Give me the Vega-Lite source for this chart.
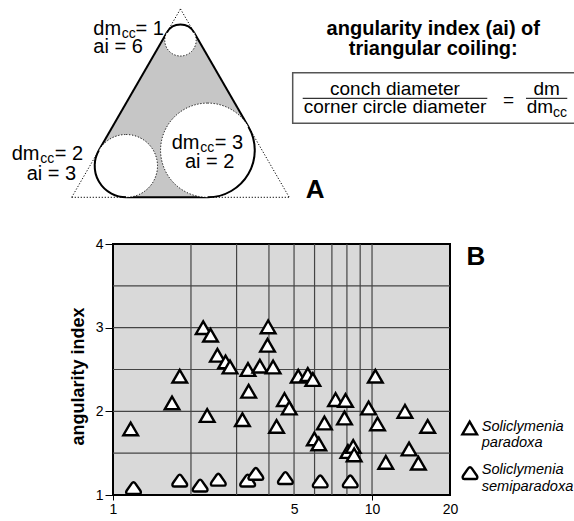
{
  "$schema": "https://vega.github.io/schema/vega-lite/v6.json",
  "autosize": {"type": "none"},
  "padding": {"left": 113, "top": 244, "right": 124, "bottom": 26},
  "width": 337,
  "height": 251,
  "view": {"fill": "#d9d9d9", "stroke": "black", "strokeWidth": 2},
  "config": {"font": "Liberation Sans"},
  "datasets": {
    "vgrid": [{"g": 2}, {"g": 3}, {"g": 4}, {"g": 5}, {"g": 6}, {"g": 7}, {"g": 8}, {"g": 9}, {"g": 10}],
    "hgrid": [{"g": 1.5}, {"g": 2}, {"g": 2.5}, {"g": 3}, {"g": 3.5}],
    "shells": [
      {"species": "Soliclymenia paradoxa", "dm": 1.17, "ai": 1.79},
      {"species": "Soliclymenia paradoxa", "dm": 1.69, "ai": 2.10},
      {"species": "Soliclymenia paradoxa", "dm": 1.81, "ai": 2.42},
      {"species": "Soliclymenia paradoxa", "dm": 2.31, "ai": 1.95},
      {"species": "Soliclymenia paradoxa", "dm": 2.23, "ai": 3.00},
      {"species": "Soliclymenia paradoxa", "dm": 2.38, "ai": 2.91},
      {"species": "Soliclymenia paradoxa", "dm": 2.53, "ai": 2.67},
      {"species": "Soliclymenia paradoxa", "dm": 2.72, "ai": 2.59},
      {"species": "Soliclymenia paradoxa", "dm": 2.83, "ai": 2.53},
      {"species": "Soliclymenia paradoxa", "dm": 3.97, "ai": 3.01},
      {"species": "Soliclymenia paradoxa", "dm": 3.95, "ai": 2.79},
      {"species": "Soliclymenia paradoxa", "dm": 3.32, "ai": 2.50},
      {"species": "Soliclymenia paradoxa", "dm": 3.69, "ai": 2.54},
      {"species": "Soliclymenia paradoxa", "dm": 4.15, "ai": 2.53},
      {"species": "Soliclymenia paradoxa", "dm": 3.34, "ai": 2.24},
      {"species": "Soliclymenia paradoxa", "dm": 3.16, "ai": 1.90},
      {"species": "Soliclymenia paradoxa", "dm": 4.28, "ai": 1.82},
      {"species": "Soliclymenia paradoxa", "dm": 4.59, "ai": 2.14},
      {"species": "Soliclymenia paradoxa", "dm": 4.79, "ai": 2.04},
      {"species": "Soliclymenia paradoxa", "dm": 5.19, "ai": 2.42},
      {"species": "Soliclymenia paradoxa", "dm": 5.65, "ai": 2.44},
      {"species": "Soliclymenia paradoxa", "dm": 5.91, "ai": 2.38},
      {"species": "Soliclymenia paradoxa", "dm": 6.55, "ai": 1.86},
      {"species": "Soliclymenia paradoxa", "dm": 5.99, "ai": 1.67},
      {"species": "Soliclymenia paradoxa", "dm": 6.23, "ai": 1.61},
      {"species": "Soliclymenia paradoxa", "dm": 7.23, "ai": 2.14},
      {"species": "Soliclymenia paradoxa", "dm": 7.90, "ai": 2.13},
      {"species": "Soliclymenia paradoxa", "dm": 7.83, "ai": 1.92},
      {"species": "Soliclymenia paradoxa", "dm": 10.3, "ai": 2.42},
      {"species": "Soliclymenia paradoxa", "dm": 9.70, "ai": 2.04},
      {"species": "Soliclymenia paradoxa", "dm": 10.5, "ai": 1.85},
      {"species": "Soliclymenia paradoxa", "dm": 13.4, "ai": 2.00},
      {"species": "Soliclymenia paradoxa", "dm": 16.4, "ai": 1.82},
      {"species": "Soliclymenia paradoxa", "dm": 13.9, "ai": 1.55},
      {"species": "Soliclymenia paradoxa", "dm": 15.1, "ai": 1.38},
      {"species": "Soliclymenia paradoxa", "dm": 11.3, "ai": 1.39},
      {"species": "Soliclymenia paradoxa", "dm": 8.07, "ai": 1.52},
      {"species": "Soliclymenia paradoxa", "dm": 8.46, "ai": 1.58},
      {"species": "Soliclymenia paradoxa", "dm": 8.53, "ai": 1.48},
      {"species": "Soliclymenia semiparadoxa", "dm": 1.20, "ai": 1.08},
      {"species": "Soliclymenia semiparadoxa", "dm": 1.81, "ai": 1.17},
      {"species": "Soliclymenia semiparadoxa", "dm": 2.17, "ai": 1.11},
      {"species": "Soliclymenia semiparadoxa", "dm": 2.55, "ai": 1.18},
      {"species": "Soliclymenia semiparadoxa", "dm": 3.31, "ai": 1.17},
      {"species": "Soliclymenia semiparadoxa", "dm": 3.56, "ai": 1.25},
      {"species": "Soliclymenia semiparadoxa", "dm": 4.63, "ai": 1.20},
      {"species": "Soliclymenia semiparadoxa", "dm": 6.31, "ai": 1.16},
      {"species": "Soliclymenia semiparadoxa", "dm": 8.24, "ai": 1.16}
    ],
    "leg": [
      {"species": "Soliclymenia paradoxa", "u": 12.675, "v": -7.347},
      {"species": "Soliclymenia semiparadoxa", "u": 12.685, "v": -8.790}
    ],
    "seg": [
      {"kind": "dotted", "u": 0, "v": 0, "u2": 3.464, "v2": 6},
      {"kind": "dotted", "u": 3.464, "v": 6, "u2": 6.928, "v2": 0},
      {"kind": "dotted", "u": 0, "v": 0, "u2": 6.928, "v2": 0},
      {"kind": "solid", "u": 0.866, "v": 1.5, "u2": 3.031, "v2": 5.25},
      {"kind": "solid", "u": 3.897, "v": 5.25, "u2": 5.629, "v2": 2.25},
      {"kind": "solid", "u": 1.732, "v": 0, "u2": 4.330, "v2": 0},
      {"kind": "frac", "u": 7.357, "v": 3.153, "u2": 13.236, "v2": 3.153},
      {"kind": "frac", "u": 14.468, "v": 3.153, "u2": 15.783, "v2": 3.153}
    ],
    "hull": [
      {"u": 0.866, "v": 1.5, "v2": 1.5},
      {"u": 1.732, "v": 3.0, "v2": 0},
      {"u": 3.031, "v": 5.25, "v2": 0},
      {"u": 3.897, "v": 5.25, "v2": 0},
      {"u": 4.330, "v": 4.5, "v2": 0},
      {"u": 5.629, "v": 2.25, "v2": 2.25}
    ],
    "circ": [
      {"u": 3.464, "v": 5, "r": 0.5, "t1": -1.0472, "t2": 1.0472},
      {"u": 1.732, "v": 1, "r": 1, "t1": 3.1416, "t2": 5.236},
      {"u": 4.330, "v": 1.5, "r": 1.5, "t1": 1.0472, "t2": 3.1416}
    ],
    "box": [{"u": 7.038, "v": 3.968, "u2": 16.2, "v2": 2.357}],
    "txt": [
      {"role": "lab", "u": 0.688, "v": 5.169, "t": "dm"},
      {"role": "sub", "u": 1.596, "v": 5.073, "t": "cc"},
      {"role": "lab", "u": 2.030, "v": 5.169, "t": "= 1"},
      {"role": "lab", "u": 0.688, "v": 4.586, "t": "ai = 6"},
      {"role": "lab", "u": -1.911, "v": 1.188, "t": "dm"},
      {"role": "sub", "u": -1.003, "v": 1.092, "t": "cc"},
      {"role": "lab", "u": -0.542, "v": 1.188, "t": "= 2"},
      {"role": "lab", "u": -1.433, "v": 0.551, "t": "ai = 3"},
      {"role": "lab", "u": 3.185, "v": 1.529, "t": "dm"},
      {"role": "sub", "u": 4.093, "v": 1.433, "t": "cc"},
      {"role": "lab", "u": 4.554, "v": 1.529, "t": "= 3"},
      {"role": "lab", "u": 3.608, "v": 0.924, "t": "ai = 2"},
      {"role": "head", "u": 11.516, "v": 5.185, "t": "angularity index (ai) of"},
      {"role": "head", "u": 11.516, "v": 4.532, "t": "triangular coiling:"},
      {"role": "frac", "u": 10.296, "v": 3.258, "t": "conch diameter"},
      {"role": "frac", "u": 10.296, "v": 2.675, "t": "corner circle diameter"},
      {"role": "frac", "u": 13.911, "v": 2.904, "t": "="},
      {"role": "frac", "u": 15.127, "v": 3.258, "t": "dm"},
      {"role": "frac", "u": 14.911, "v": 2.675, "t": "dm"},
      {"role": "sub", "u": 15.328, "v": 2.553, "t": "cc"},
      {"role": "big", "u": 7.749, "v": -0.032, "t": "A"},
      {"role": "big", "u": 12.869, "v": -2.156, "t": "B"},
      {"role": "leg", "u": 13.057, "v": -7.443, "t": "Soliclymenia"},
      {"role": "leg", "u": 13.057, "v": -7.952, "t": "paradoxa"},
      {"role": "leg", "u": 13.057, "v": -8.828, "t": "Soliclymenia"},
      {"role": "leg", "u": 13.057, "v": -9.338, "t": "semiparadoxa"}
    ]
  },
  "layer": [
    {
      "data": {"name": "vgrid"},
      "mark": {"type": "rule", "color": "#444", "strokeWidth": 1.2},
      "encoding": {
        "x": {"field": "g", "type": "quantitative", "scale": {"type": "log", "domain": [1, 20], "nice": false}, "axis": null}
      }
    },
    {
      "data": {"name": "hgrid"},
      "mark": {"type": "rule", "color": "#444", "strokeWidth": 1.2},
      "encoding": {
        "y": {"field": "g", "type": "quantitative", "scale": {"domain": [1, 4], "nice": false, "zero": false}, "axis": null}
      }
    },
    {
      "data": {"name": "shells"},
      "mark": {"type": "point", "filled": false, "fill": "white", "stroke": "black", "strokeWidth": 2.4, "size": 215, "opacity": 1, "fillOpacity": 1},
      "encoding": {
        "x": {
          "field": "dm", "type": "quantitative",
          "scale": {"type": "log", "domain": [1, 20], "nice": false},
          "axis": {
            "values": [1, 5, 10, 20], "title": null, "domain": false, "grid": false,
            "tickSize": 5, "tickColor": "black",
            "tickOpacity": {"condition": {"test": "datum.value == 1 || datum.value == 10", "value": 1}, "value": 0},
            "labelFontSize": 14, "labelColor": "black", "labelPadding": 2, "labelFlush": false, "format": "~g"
          }
        },
        "y": {
          "field": "ai", "type": "quantitative",
          "scale": {"domain": [1, 4], "nice": false, "zero": false},
          "axis": {
            "values": [1, 2, 3, 4], "title": "angularity index", "titleFontSize": 18, "titleFontWeight": "bold",
            "titleColor": "black", "titlePadding": 8, "titleY": 132, "domain": false, "grid": false,
            "tickSize": 8, "tickColor": "black", "labelFontSize": 14, "labelColor": "black", "labelPadding": 2
          }
        },
        "shape": {
          "field": "species", "type": "nominal",
          "scale": {
            "domain": ["Soliclymenia paradoxa", "Soliclymenia semiparadoxa"],
            "range": ["triangle-up", "M-0.78,0.78 C-1.05,0.78 -1.05,0.5 -0.92,0.3 L-0.22,-0.7 C-0.1,-0.88 0.1,-0.88 0.22,-0.7 L0.92,0.3 C1.05,0.5 1.05,0.78 0.78,0.78 Z"]
          },
          "legend": null
        }
      }
    },
    {
      "data": {"name": "leg"},
      "mark": {"type": "point", "filled": false, "fill": "white", "stroke": "black", "strokeWidth": 2.4, "size": 215, "opacity": 1, "fillOpacity": 1},
      "encoding": {
        "x": {"field": "u", "type": "quantitative", "scale": {"domain": [1.315, 12.048], "nice": false, "zero": false}, "axis": null},
        "y": {"field": "v", "type": "quantitative", "scale": {"domain": [-9.481, -1.487], "nice": false, "zero": false}, "axis": null},
        "shape": {
          "field": "species", "type": "nominal",
          "scale": {
            "domain": ["Soliclymenia paradoxa", "Soliclymenia semiparadoxa"],
            "range": ["triangle-up", "M-0.78,0.78 C-1.05,0.78 -1.05,0.5 -0.92,0.3 L-0.22,-0.7 C-0.1,-0.88 0.1,-0.88 0.22,-0.7 L0.92,0.3 C1.05,0.5 1.05,0.78 0.78,0.78 Z"]
          },
          "legend": null
        }
      }
    },
    {
      "data": {"name": "seg"},
      "transform": [{"filter": "datum.kind == 'dotted'"}],
      "mark": {"type": "rule", "color": "black", "strokeWidth": 1, "strokeDash": [1.2, 1.8]},
      "encoding": {
        "x": {"field": "u", "type": "quantitative", "scale": {"domain": [1.315, 12.048], "nice": false, "zero": false}, "axis": null},
        "y": {"field": "v", "type": "quantitative", "scale": {"domain": [-9.481, -1.487], "nice": false, "zero": false}, "axis": null},
        "x2": {"field": "u2"}, "y2": {"field": "v2"}
      }
    },
    {
      "data": {"name": "hull"},
      "mark": {"type": "area", "color": "#c6c6c6", "opacity": 1},
      "encoding": {
        "x": {"field": "u", "type": "quantitative", "scale": {"domain": [1.315, 12.048], "nice": false, "zero": false}, "axis": null},
        "y": {"field": "v", "type": "quantitative", "scale": {"domain": [-9.481, -1.487], "nice": false, "zero": false}, "axis": null},
        "y2": {"field": "v2"}
      }
    },
    {
      "data": {"name": "seg"},
      "transform": [{"filter": "datum.kind == 'solid'"}],
      "mark": {"type": "rule", "color": "black", "strokeWidth": 2},
      "encoding": {
        "x": {"field": "u", "type": "quantitative", "scale": {"domain": [1.315, 12.048], "nice": false, "zero": false}, "axis": null},
        "y": {"field": "v", "type": "quantitative", "scale": {"domain": [-9.481, -1.487], "nice": false, "zero": false}, "axis": null},
        "x2": {"field": "u2"}, "y2": {"field": "v2"}
      }
    },
    {
      "data": {"name": "seg"},
      "transform": [{"filter": "datum.kind == 'frac'"}],
      "mark": {"type": "rule", "color": "black", "strokeWidth": 1},
      "encoding": {
        "x": {"field": "u", "type": "quantitative", "scale": {"domain": [1.315, 12.048], "nice": false, "zero": false}, "axis": null},
        "y": {"field": "v", "type": "quantitative", "scale": {"domain": [-9.481, -1.487], "nice": false, "zero": false}, "axis": null},
        "x2": {"field": "u2"}, "y2": {"field": "v2"}
      }
    },
    {
      "data": {"name": "box"},
      "mark": {"type": "rect", "filled": false, "color": "#555", "strokeWidth": 1.5},
      "encoding": {
        "x": {"field": "u", "type": "quantitative", "scale": {"domain": [1.315, 12.048], "nice": false, "zero": false}, "axis": null},
        "y": {"field": "v", "type": "quantitative", "scale": {"domain": [-9.481, -1.487], "nice": false, "zero": false}, "axis": null},
        "x2": {"field": "u2"}, "y2": {"field": "v2"}
      }
    },
    {
      "data": {"name": "circ"},
      "mark": {"type": "arc", "theta": 0, "theta2": 6.2832, "fill": "white", "stroke": "black", "strokeWidth": 1, "strokeDash": [1.2, 1.8]},
      "encoding": {
        "x": {"field": "u", "type": "quantitative", "scale": {"domain": [1.315, 12.048], "nice": false, "zero": false}, "axis": null},
        "y": {"field": "v", "type": "quantitative", "scale": {"domain": [-9.481, -1.487], "nice": false, "zero": false}, "axis": null},
        "radius": {"field": "r", "type": "quantitative", "stack": null, "scale": {"type": "linear", "domain": [0, 1.5], "range": [0, 47.1], "zero": true, "nice": false}, "legend": null}
      }
    },
    {
      "data": {"name": "circ"},
      "mark": {"type": "arc", "filled": false, "color": "black", "strokeWidth": 2},
      "encoding": {
        "x": {"field": "u", "type": "quantitative", "scale": {"domain": [1.315, 12.048], "nice": false, "zero": false}, "axis": null},
        "y": {"field": "v", "type": "quantitative", "scale": {"domain": [-9.481, -1.487], "nice": false, "zero": false}, "axis": null},
        "theta": {"field": "t1", "type": "quantitative", "scale": null, "stack": null},
        "theta2": {"field": "t2"},
        "radius": {"field": "r", "type": "quantitative", "stack": null, "scale": {"type": "linear", "domain": [0, 1.5], "range": [0, 47.1], "zero": true, "nice": false}, "legend": null},
        "radius2": {"field": "r"}
      }
    },
    {
      "data": {"name": "txt"},
      "transform": [{"filter": "datum.role == 'lab'"}],
      "mark": {"type": "text", "align": "left", "baseline": "alphabetic", "fontSize": 20, "color": "black"},
      "encoding": {
        "x": {"field": "u", "type": "quantitative", "scale": {"domain": [1.315, 12.048], "nice": false, "zero": false}, "axis": null},
        "y": {"field": "v", "type": "quantitative", "scale": {"domain": [-9.481, -1.487], "nice": false, "zero": false}, "axis": null},
        "text": {"field": "t"}
      }
    },
    {
      "data": {"name": "txt"},
      "transform": [{"filter": "datum.role == 'sub'"}],
      "mark": {"type": "text", "align": "left", "baseline": "alphabetic", "fontSize": 14, "color": "black"},
      "encoding": {
        "x": {"field": "u", "type": "quantitative", "scale": {"domain": [1.315, 12.048], "nice": false, "zero": false}, "axis": null},
        "y": {"field": "v", "type": "quantitative", "scale": {"domain": [-9.481, -1.487], "nice": false, "zero": false}, "axis": null},
        "text": {"field": "t"}
      }
    },
    {
      "data": {"name": "txt"},
      "transform": [{"filter": "datum.role == 'frac'"}],
      "mark": {"type": "text", "align": "center", "baseline": "alphabetic", "fontSize": 19, "color": "black"},
      "encoding": {
        "x": {"field": "u", "type": "quantitative", "scale": {"domain": [1.315, 12.048], "nice": false, "zero": false}, "axis": null},
        "y": {"field": "v", "type": "quantitative", "scale": {"domain": [-9.481, -1.487], "nice": false, "zero": false}, "axis": null},
        "text": {"field": "t"}
      }
    },
    {
      "data": {"name": "txt"},
      "transform": [{"filter": "datum.role == 'head'"}],
      "mark": {"type": "text", "align": "center", "baseline": "alphabetic", "fontSize": 20, "fontWeight": "bold", "color": "black"},
      "encoding": {
        "x": {"field": "u", "type": "quantitative", "scale": {"domain": [1.315, 12.048], "nice": false, "zero": false}, "axis": null},
        "y": {"field": "v", "type": "quantitative", "scale": {"domain": [-9.481, -1.487], "nice": false, "zero": false}, "axis": null},
        "text": {"field": "t"}
      }
    },
    {
      "data": {"name": "txt"},
      "transform": [{"filter": "datum.role == 'big'"}],
      "mark": {"type": "text", "align": "center", "baseline": "alphabetic", "fontSize": 26, "fontWeight": "bold", "color": "black"},
      "encoding": {
        "x": {"field": "u", "type": "quantitative", "scale": {"domain": [1.315, 12.048], "nice": false, "zero": false}, "axis": null},
        "y": {"field": "v", "type": "quantitative", "scale": {"domain": [-9.481, -1.487], "nice": false, "zero": false}, "axis": null},
        "text": {"field": "t"}
      }
    },
    {
      "data": {"name": "txt"},
      "transform": [{"filter": "datum.role == 'leg'"}],
      "mark": {"type": "text", "align": "left", "baseline": "alphabetic", "fontSize": 14.6, "fontStyle": "italic", "color": "black"},
      "encoding": {
        "x": {"field": "u", "type": "quantitative", "scale": {"domain": [1.315, 12.048], "nice": false, "zero": false}, "axis": null},
        "y": {"field": "v", "type": "quantitative", "scale": {"domain": [-9.481, -1.487], "nice": false, "zero": false}, "axis": null},
        "text": {"field": "t"}
      }
    }
  ],
  "resolve": {"scale": {"x": "independent", "y": "independent"}}
}
